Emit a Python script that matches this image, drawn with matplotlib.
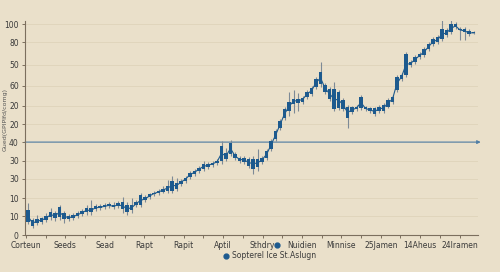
import numpy as np
import matplotlib
matplotlib.use("Agg")
import matplotlib.pyplot as plt
from matplotlib.lines import Line2D

# candle bodies (low, high) and wicks (low, high), one entry per session
body_lo = [13, 9, 12, 13, 15, 18, 17, 18, 16, 16, 17, 19, 21, 23, 23, 26, 27, 28, 29, 28,
           29, 26, 23, 25, 30, 30, 35, 38, 41, 42, 44, 45, 45, 47, 52, 55, 59, 62, 65, 67,
           69, 71, 73, 75, 77, 82, 78, 75, 74, 70, 67, 69, 74, 78, 87, 97, 108, 118, 125, 133,
           134, 135, 140, 143, 150, 153, 145, 138, 127, 128, 127, 118, 124, 127, 128, 127, 125, 122, 125, 125,
           130, 135, 147, 158, 162, 172, 175, 180, 182, 188, 193, 195, 198, 202, 205, 210, 207, 205, 203, 204]
body_hi = [25, 15, 16, 17, 19, 23, 22, 28, 22, 19, 20, 22, 24, 27, 27, 29, 29, 30, 31, 30,
           32, 33, 30, 30, 33, 40, 38, 41, 43, 45, 47, 50, 55, 53, 55, 58, 63, 65, 68, 72,
           72, 73, 75, 90, 83, 93, 82, 78, 78, 77, 77, 77, 78, 85, 95, 105, 115, 127, 135, 138,
           138, 139, 145, 149, 158, 165, 152, 148, 148, 145, 137, 130, 129, 130, 140, 129, 128, 128, 130, 132,
           137, 140, 160, 162, 183, 175, 180, 183, 188, 193, 198, 200, 208, 207, 213, 213, 208, 208, 206, 205]
wick_lo = [11, 7, 10, 11, 13, 15, 14, 15, 12, 14, 15, 17, 19, 20, 20, 24, 25, 26, 27, 26,
           27, 22, 20, 22, 28, 28, 33, 36, 39, 40, 42, 43, 43, 45, 50, 53, 57, 60, 63, 65,
           67, 69, 71, 72, 75, 80, 76, 73, 72, 68, 62, 65, 72, 76, 85, 95, 106, 116, 120, 123,
           125, 133, 138, 141, 148, 150, 143, 136, 125, 126, 125, 108, 122, 125, 126, 125, 123, 120, 123, 123,
           128, 133, 145, 156, 160, 170, 173, 178, 180, 186, 191, 193, 196, 200, 203, 208, 197, 197, 201, 203]
wick_hi = [32, 17, 20, 18, 22, 27, 24, 30, 24, 21, 22, 24, 26, 30, 35, 31, 31, 32, 33, 33,
           34, 38, 33, 37, 35, 42, 40, 43, 45, 47, 50, 56, 60, 58, 57, 60, 65, 67, 70, 75,
           74, 75, 77, 95, 88, 96, 84, 80, 80, 79, 80, 87, 80, 87, 97, 107, 117, 129, 145, 147,
           144, 141, 147, 151, 160, 175, 154, 150, 155, 147, 139, 132, 131, 132, 142, 131, 130, 130, 132, 134,
           139, 142, 162, 164, 185, 177, 182, 185, 190, 195, 200, 202, 218, 209, 221, 215, 210, 210, 208, 206]

y_ticks = [0, 19, 37, 57, 75, 94, 112, 131, 151, 172, 195, 213]
y_labels = ['0', '10', '10', '30', '30', '40', '20', '20', '60', '50', '80', '100']
x_labels = ['Corteun', 'Seeds', 'Sead', 'Rapt', 'Rapit', 'Aptil', 'Sthdry',
            'Nuidien', 'Minnise', '25Jamen', '14Aheus', '24Iramen']
ref_level = 94
legend_label = 'Sopterel Ice St.Aslugn'

bg = '#eae0ca'
blue = '#1d5a8e'
wick_col = '#7d8a96'
axis_col = '#7c6f5e'

fig = plt.figure(figsize=(5, 2.72), dpi=100, facecolor=bg)
ax = fig.add_axes([0.05, 0.136, 0.906, 0.785], facecolor=bg)

x = np.arange(len(body_lo))
lo = np.array(body_lo)
hi = np.array(body_hi)
ax.vlines(x, wick_lo, wick_hi, color=wick_col, lw=0.8, zorder=2)
ax.bar(x, hi - lo, bottom=lo, width=0.7, color=blue, zorder=3)
ax.plot(x, (lo + hi) / 2, color=blue, lw=0.8, zorder=2)

# reference level with arrow
ax.annotate('', xy=(100.6, ref_level), xytext=(-0.67, ref_level),
            arrowprops=dict(arrowstyle='-|>', color='#4f7ea6', lw=0.8,
                            mutation_scale=5, shrinkA=0, shrinkB=0),
            annotation_clip=False, zorder=1)

ax.set_xlim(-0.67, 100)
ax.set_ylim(0, 216)
ax.set_yticks(y_ticks)
ax.set_yticklabels(y_labels)
major = np.arange(12) * 8.76 - 0.45
minor = major[:-1] + 4.38
ax.set_xticks(major)
ax.set_xticklabels(x_labels)
ax.set_xticks(minor, minor=True)

ax.grid(axis='y', color='#e0d5bc', lw=0.7)
ax.set_axisbelow(True)
for s in ['top', 'right']:
    ax.spines[s].set_visible(False)
for s in ['left', 'bottom']:
    ax.spines[s].set_color(axis_col)
    ax.spines[s].set_linewidth(0.8)
ax.tick_params(axis='both', which='both', colors=axis_col, length=2.5, width=0.7,
               labelsize=5.5, labelcolor='#3a3a3a', pad=2)

fig.text(0.011, 0.56, 'Gued(GPIPlfd/comg)', rotation=90, fontsize=4.5,
         color='#555555', ha='center', va='center')

# stray legend markers
fig.add_artist(Line2D([0.554], [0.099], marker='o', ms=3.5, color=blue,
                      transform=fig.transFigure))
fig.add_artist(Line2D([0.451], [0.059], marker='o', ms=3.5, color=blue,
                      transform=fig.transFigure))
fig.text(0.465, 0.059, legend_label, fontsize=5.5, color='#3a3a3a', va='center')

fig.savefig('out.png', dpi=100, facecolor=bg)
